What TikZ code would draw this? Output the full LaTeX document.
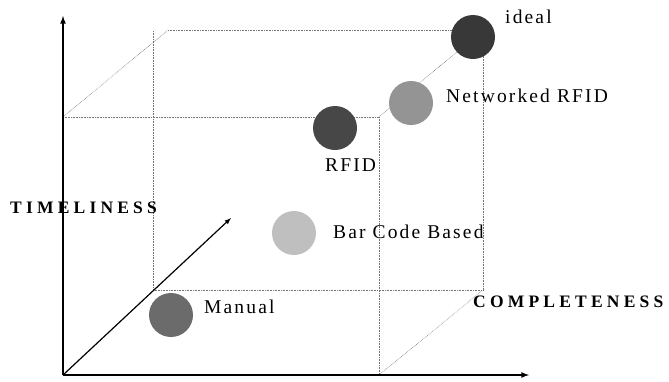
\documentclass[tikz,border=0pt]{standalone}
\usepackage{fontspec}
\setmainfont{Liberation Serif}
\newfontfamily\tagfont[LetterSpace=11]{Liberation Serif}
\newfontfamily\axisfont[LetterSpace=24]{Liberation Serif}
\usetikzlibrary{arrows}
\tikzset{>=latex}
\tikzset{ball/.style = {shape=circle,minimum size=44pt,inner sep=0pt}}
\tikzset{edge/.style = {densely dotted,black!55,line width=0.6pt}}
\tikzset{tag/.style = {font=\tagfont\fontsize{19.5}{22}\selectfont,inner sep=0pt,anchor=base west}}
\tikzset{axislabel/.style = {font=\axisfont\bfseries\fontsize{17.5}{20}\selectfont,inner sep=0pt,anchor=base west}}

\begin{document}
\begin{tikzpicture}[x=1pt,y=-1pt]
    \useasboundingbox (0,0) rectangle (669,381);

    % corners of the box
    \coordinate (O) at (63,375);
    \coordinate (ftl) at (63,117);
    \coordinate (ftr) at (379,117);
    \coordinate (fbr) at (379,375);
    \coordinate (btl) at (168,30);
    \coordinate (bl) at (153,31);
    \coordinate (bbl) at (153,290);
    \coordinate (btr) at (483,30);
    \coordinate (bbr) at (483,290);

    \draw[edge] (ftl) -- (ftr);
    \draw[edge] (ftr) -- (fbr);
    \draw[edge] (ftl) -- (btl);
    \draw[edge] (btl) -- (btr);
    \draw[edge] (bl) -- (bbl);
    \draw[edge] (bbl) -- (bbr);
    \draw[edge] (btr) -- (bbr);
    \draw[edge] (ftr) -- (btr);
    \draw[edge] (fbr) -- (bbr);

    % the five systems
    \node[ball,fill=black!58] (manual) at (171,315) {};
    \node[ball,fill=black!25] (barcode) at (294,233) {};
    \node[ball,fill=black!72] (rfid) at (335,128) {};
    \node[ball,fill=black!42] (netrfid) at (411,103) {};
    \node[ball,fill=black!78] (ideal) at (473,37) {};

    \node[tag] (manualtxt) at (204,313) {Manual};
    \node[tag] (barcodetxt) at (333,238) {Bar Code Based};
    \node[tag] (rfidtxt) at (325,171) {RFID};
    \node[tag] (netrfidtxt) at (446,102) {Networked RFID};
    \node[tag] (idealtxt) at (505,23) {ideal};

    % axes
    \coordinate (ytop) at (63,16);
    \coordinate (xend) at (529,375);
    \coordinate (zend) at (231,218);
    \draw[->,line width=1.6pt] (O) -- (ytop);
    \draw[->,line width=1.6pt] (O) -- (xend);
    \draw[->,line width=1.2pt] (O) -- (zend);

    \node[axislabel] (timeliness) at (10,213) {TIMELINESS};
    \node[axislabel] (completeness) at (473,307) {COMPLETENESS};
\end{tikzpicture}
\end{document}
